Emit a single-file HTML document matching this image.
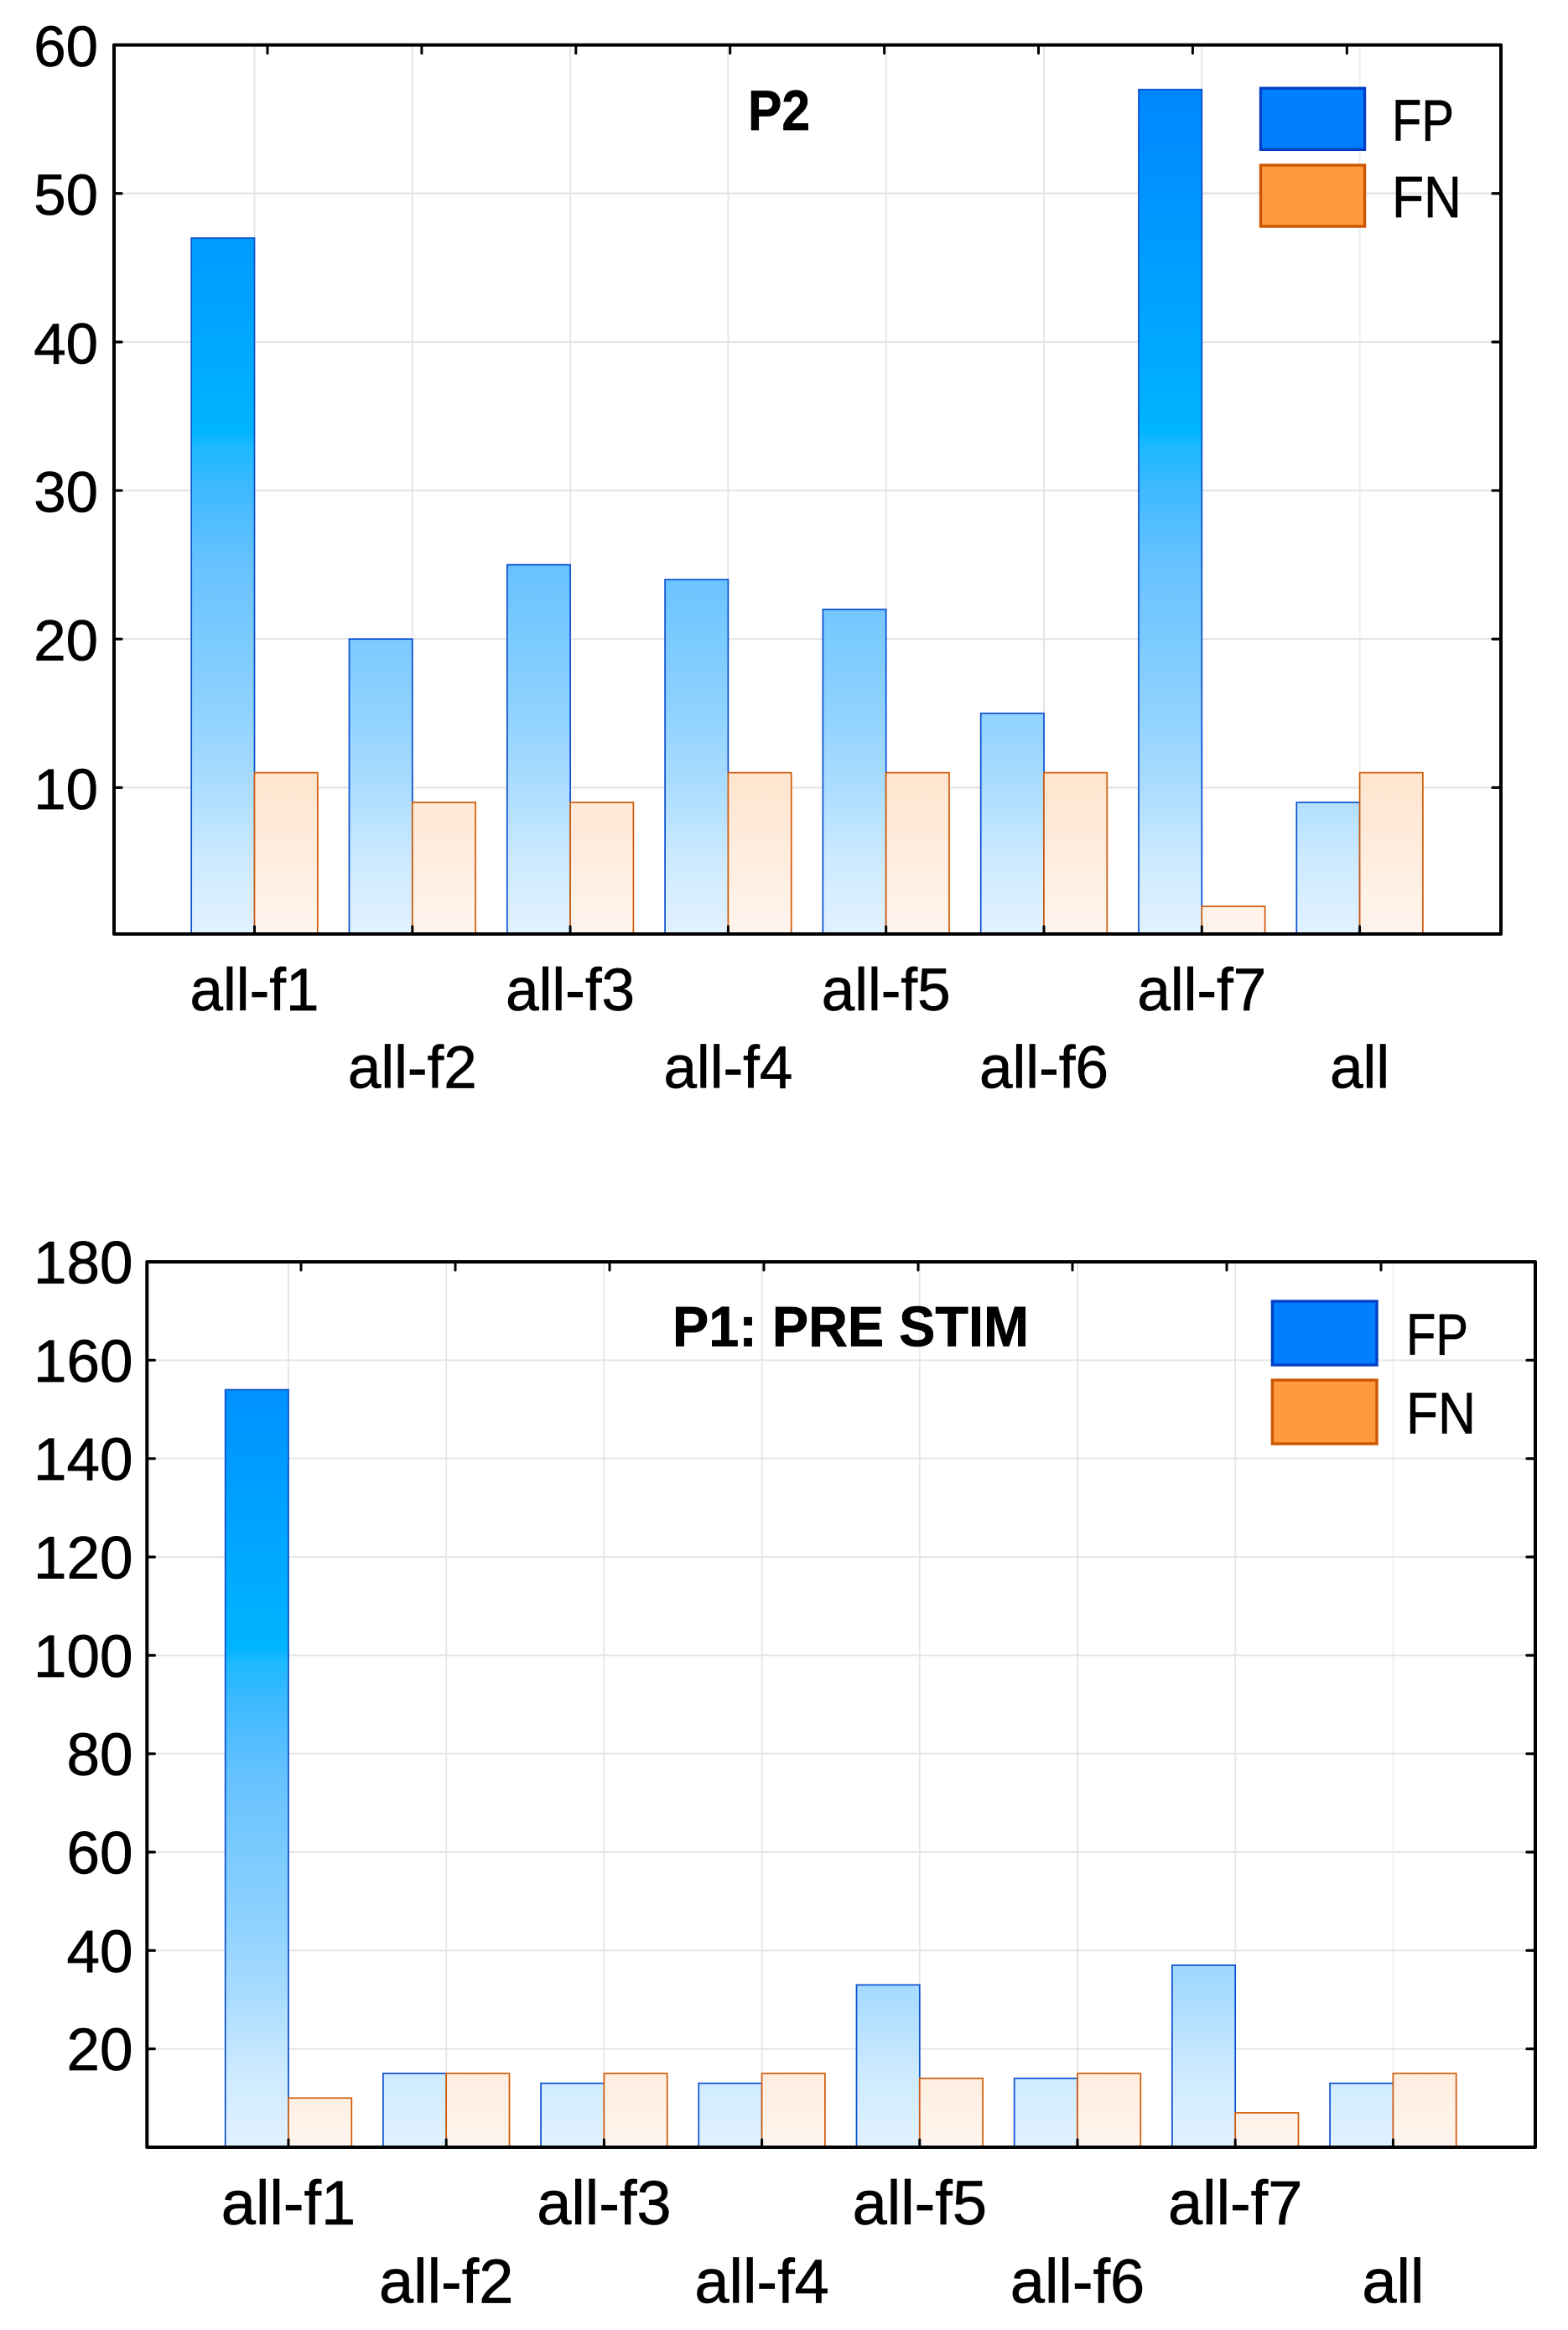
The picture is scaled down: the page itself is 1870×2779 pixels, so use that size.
<!DOCTYPE html>
<html lang="en">
<head>
<meta charset="utf-8">
<title>P2 and P1 false positive and false negative counts</title>
<style>
html,body{margin:0;padding:0;background:#fff;width:1870px;height:2779px;overflow:hidden}
svg{display:block}
text{font-family:"Liberation Sans",Arial,sans-serif;fill:#000;stroke:#000;stroke-width:0.7px}
</style>
</head>
<body>
<svg id="figure" xmlns="http://www.w3.org/2000/svg" width="1870" height="2779" viewBox="0 0 1870 2779"></svg>
<script>
const categories = ["all-f1", "all-f2", "all-f3", "all-f4", "all-f5", "all-f6", "all-f7", "all"];
const p2Fp = [47, 20, 25, 24, 22, 15, 57, 9];
const p2Fn = [11, 9, 9, 11, 11, 11, 2, 11];
const p2Ticks = [10, 20, 30, 40, 50, 60];
const p1Fp = [154, 15, 13, 13, 33, 14, 37, 13];
const p1Fn = [10, 15, 15, 15, 14, 15, 7, 15];
const p1Ticks = [20, 40, 60, 80, 100, 120, 140, 160, 180];

const NS = "http://www.w3.org/2000/svg";
const root = document.getElementById("figure");

function make(parent, tag, attrs, text) {
  const el = document.createElementNS(NS, tag);
  for (const k in attrs) el.setAttribute(k, attrs[k]);
  if (text !== undefined) el.textContent = text;
  parent.appendChild(el);
  return el;
}

function drawChart(c, fp, fn, ticks) {
  const g = make(root, "g", {});
  
  

  const y = v => c.bottom - (v - c.domMin) * (c.bottom - c.top) / (c.domMax - c.domMin);
  const x = i => c.x0 + c.step * i;
  const topTickX = i => c.topTick0 + c.topTickStep * i;

  const defs = make(g, "defs", {});
  const blue = make(defs, "linearGradient", {id: c.id + "-fp-grad", gradientUnits: "userSpaceOnUse", x1: 0, x2: 0, y1: c.top, y2: c.bottom});
  make(blue, "stop", {offset: 0, "stop-color": "#0080ff"});
  make(blue, "stop", {offset: 0.435, "stop-color": "#00b4ff"});
  make(blue, "stop", {offset: 0.45, "stop-color": "#1ab9ff"});
  make(blue, "stop", {offset: 0.5, "stop-color": "#3fb9ff"});
  make(blue, "stop", {offset: 0.583, "stop-color": "#66c2ff"});
  make(blue, "stop", {offset: 0.75, "stop-color": "#8fd2ff"});
  make(blue, "stop", {offset: 0.83, "stop-color": "#a9dcff"});
  make(blue, "stop", {offset: 0.917, "stop-color": "#cdeaff"});
  make(blue, "stop", {offset: 1, "stop-color": "#e2f2ff"});
  const orange = make(defs, "linearGradient", {id: c.id + "-fn-grad", gradientUnits: "userSpaceOnUse", x1: 0, x2: 0, y1: c.top, y2: c.bottom});
  make(orange, "stop", {offset: 0, "stop-color": "#ff9a3e"});
  make(orange, "stop", {offset: 1, "stop-color": "#fff5ee"});

  categories.forEach((name, i) => {
    const line = make(g, "line", {x1: x(i), x2: x(i), y1: c.top, y2: c.bottom, stroke: i === categories.length - 1 ? "#f0f0f0" : "#e6e6e6", "stroke-width": c.gridV});
    
    
  });
  ticks.forEach(v => {
    if (v === c.domMax) return;
    const line = make(g, "line", {x1: c.left, x2: c.right, y1: y(v), y2: y(v), stroke: "#e6e6e6", "stroke-width": c.gridH});
    
    
  });

  categories.forEach((name, i) => {
    const a = make(g, "rect", {x: x(i) - c.barW, y: y(fp[i]), width: c.barW, height: c.bottom - y(fp[i]), fill: "url(#" + c.id + "-fp-grad)", stroke: "#0a4fd0", "stroke-width": 1.7});
    
    
    const b = make(g, "rect", {x: x(i), y: y(fn[i]), width: c.barW, height: c.bottom - y(fn[i]), fill: "url(#" + c.id + "-fn-grad)", stroke: "#d05a08", "stroke-width": 1.7});
    
    
  });

  const frame = make(g, "rect", {x: c.left, y: c.top, width: c.right - c.left, height: c.bottom - c.top, fill: "none", stroke: "#000", "stroke-width": 4, "stroke-linejoin": "round"});
  
  

  categories.forEach((name, i) => {
    const t1 = make(g, "line", {x1: topTickX(i), x2: topTickX(i), y1: c.top, y2: c.top + 10, stroke: "#000", "stroke-width": 3, "stroke-linecap": "round"});
    
    
    const t2 = make(g, "line", {x1: x(i), x2: x(i), y1: c.bottom, y2: c.bottom - 9, stroke: "#000", "stroke-width": 3, "stroke-linecap": "round"});
    
    
    const label = make(g, "text", {x: x(i), y: i % 2 === 0 ? c.labelY1 : c.labelY2, "text-anchor": "middle", "font-size": c.labelFont}, name);
    
    
  });

  ticks.forEach(v => {
    if (v !== c.domMax) {
      const t1 = make(g, "line", {x1: c.left, x2: c.left + 9, y1: y(v), y2: y(v), stroke: "#000", "stroke-width": 3.2, "stroke-linecap": "round"});
      
      
      const t2 = make(g, "line", {x1: c.right, x2: c.right - 10, y1: y(v), y2: y(v), stroke: "#000", "stroke-width": 3.2, "stroke-linecap": "round"});
      
      
    }
    const label = make(g, "text", {x: c.tickRight, y: y(v) + 25.5, "text-anchor": "end", "font-size": c.font}, String(v));
    
    
  });

  const title = make(g, "text", {x: c.titleX, y: c.titleY, "font-size": 68, "font-weight": "bold", textLength: c.titleLen, lengthAdjust: "spacingAndGlyphs"}, c.title);
  
  

  const s1 = make(g, "rect", {x: c.legX, y: c.legY1, width: c.legW, height: c.legH, fill: "#0080ff", stroke: "#0040c8", "stroke-width": 3.4});
  
  
  const s2 = make(g, "rect", {x: c.legX, y: c.legY2, width: c.legW, height: c.legH, fill: "#ff9a3e", stroke: "#cc5500", "stroke-width": 3.4});
  
  
  const l1 = make(g, "text", {x: c.legTextX, y: c.legBase1, "font-size": 70, textLength: 74, lengthAdjust: "spacingAndGlyphs"}, "FP");
  
  
  const l2 = make(g, "text", {x: c.legTextX, y: c.legBase2, "font-size": 70, textLength: 83, lengthAdjust: "spacingAndGlyphs"}, "FN");
  
  
}

drawChart({
  id: "p2", title: "P2", left: 136, right: 1790, top: 53.6, bottom: 1114,
  domMin: 0.14, domMax: 60, x0: 303.5, step: 188.3, barW: 75.3,
  topTick0: 319, topTickStep: 183.9, gridV: 2, gridH: 2.4, font: 69, labelFont: 71,
  tickRight: 117, labelY1: 1205, labelY2: 1297.3,
  titleX: 892, titleY: 155, titleLen: 74,
  legX: 1503.5, legW: 124, legY1: 105.3, legY2: 197, legH: 73,
  legTextX: 1660, legBase1: 167.4, legBase2: 259
}, p2Fp, p2Fn, p2Ticks);

drawChart({
  id: "p1", title: "P1: PRE STIM", left: 175.3, right: 1831, top: 1505, bottom: 2561,
  domMin: 0, domMax: 180, x0: 344, step: 188.2, barW: 75.3,
  topTick0: 359, topTickStep: 184, gridV: 1.8, gridH: 2, font: 71, labelFont: 74,
  tickRight: 158.5, labelY1: 2653, labelY2: 2746.7,
  titleX: 802, titleY: 1605.7, titleLen: 425,
  legX: 1517.4, legW: 124.6, legY1: 1552, legY2: 1646, legH: 76,
  legTextX: 1677, legBase1: 1615.7, legBase2: 1709.3
}, p1Fp, p1Fn, p1Ticks);
</script>
</body>
</html>
